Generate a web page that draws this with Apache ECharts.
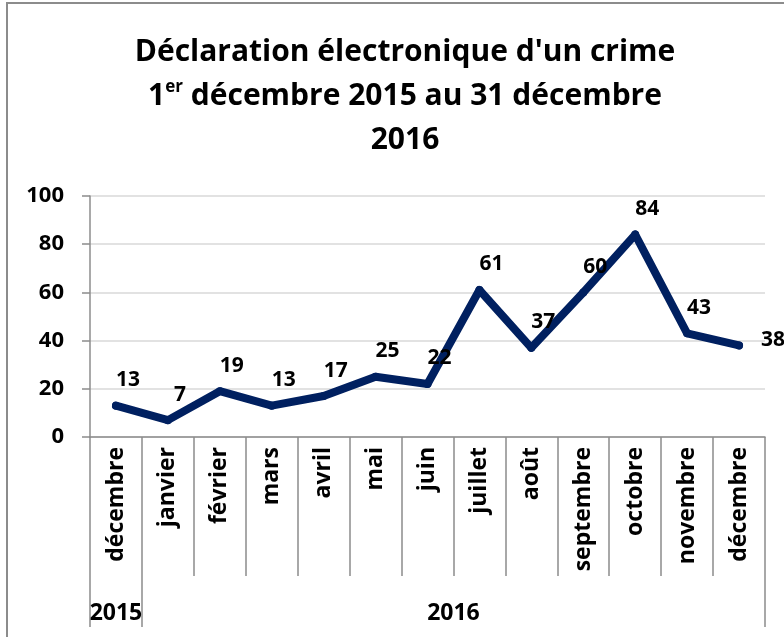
<!DOCTYPE html>
<html>
<head>
<meta charset="utf-8">
<script src="https://cdn.jsdelivr.net/npm/echarts@6/dist/echarts.min.js"></script>
<style>
  html, body { margin: 0; padding: 0; background: #fff; }
  #crimeChart { width: 784px; height: 637px; }
</style>
</head>
<body>
<div id="crimeChart"></div>
<script>
const MONTH_LABELS = ['décembre', 'janvier', 'février', 'mars', 'avril', 'mai', 'juin',
  'juillet', 'août', 'septembre', 'octobre', 'novembre', 'décembre']
const CRIME_COUNTS = [13, 7, 19, 13, 17, 25, 22, 61, 37, 60, 84, 43, 38]
const YEAR_LABELS = ['2015', '2016']
const Y_TICKS = [0, 20, 40, 60, 80, 100]

const FONT = '"Open Sans", "Liberation Sans", sans-serif'
const GRAY = '#8c8c8c'

const initCrimeChart = () => {
  const crimeChart = echarts.init(document.getElementById('crimeChart'))
  const lastIndex = CRIME_COUNTS.length - 1
  const crimeOption = {
    animation: false,
    textStyle: { fontFamily: FONT },
    graphic: [{
      type: 'rect',
      shape: { x: 7, y: 3, width: 820, height: 700 },
      style: { fill: 'none', stroke: GRAY, lineWidth: 2 },
      silent: true
    }],
    title: {
      text: "Déclaration électronique d'un crime\n1{sup|er} décembre 2015 au 31 décembre\n2016",
      left: 400,
      top: 25,
      textAlign: 'center',
      textStyle: {
        fontFamily: FONT,
        fontSize: 30,
        fontWeight: 'bold',
        color: '#000',
        lineHeight: 44,
        rich: {
          sup: {
            fontFamily: FONT,
            fontSize: 17,
            fontWeight: 'bold',
            color: '#000',
            verticalAlign: 'top',
            lineHeight: 44,
            padding: [5, 0, 0, 0]
          }
        }
      }
    },
    grid: {
      left: 90,
      right: 19,
      top: 196,
      bottom: 200,
      containLabel: false
    },
    xAxis: [{
      type: 'category',
      data: MONTH_LABELS,
      boundaryGap: true,
      axisLine: { lineStyle: { color: GRAY, width: 1.5 } },
      axisTick: {
        show: true,
        interval: 0,
        length: 139,
        lineStyle: { color: GRAY, width: 1.5 }
      },
      axisLabel: {
        interval: 0,
        rotate: 90,
        margin: 10,
        fontFamily: FONT,
        fontSize: 23,
        fontWeight: 'bold',
        color: '#000'
      },
      splitLine: { show: false }
    }, {
      type: 'value',
      position: 'bottom',
      offset: 139,
      min: 0,
      max: 13,
      axisLine: { show: false },
      axisTick: {
        show: true,
        customValues: [0, 1, 13],
        length: 51,
        lineStyle: { color: GRAY, width: 1.5 }
      },
      axisLabel: {
        customValues: [0.5, 7],
        margin: 26,
        fontFamily: FONT,
        fontSize: 23,
        fontWeight: 'bold',
        color: '#000',
        formatter: (value) => (value < 1 ? YEAR_LABELS[0] : YEAR_LABELS[1])
      },
      splitLine: { show: false }
    }],
    yAxis: {
      type: 'value',
      min: Y_TICKS[0],
      max: Y_TICKS[Y_TICKS.length - 1],
      interval: 20,
      axisLine: { show: true, lineStyle: { color: GRAY, width: 1.5 } },
      axisTick: { show: true, length: 8, lineStyle: { color: GRAY, width: 1.5 } },
      axisLabel: {
        margin: 26,
        fontFamily: FONT,
        fontSize: 22,
        fontWeight: 'bold',
        color: '#000'
      },
      splitLine: { lineStyle: { color: '#d9d9d9', width: 1.5 } }
    },
    series: [{
      type: 'line',
      xAxisIndex: 0,
      data: CRIME_COUNTS.map((count, i) => (i === lastIndex
        ? { value: count, label: { position: 'right', distance: 18, offset: [0, -5] } }
        : count)),
      symbol: 'circle',
      symbolSize: 8,
      itemStyle: { color: '#002060' },
      lineStyle: { color: '#002060', width: 8, cap: 'round', join: 'round' },
      label: {
        show: true,
        position: 'top',
        distance: 5,
        offset: [12, -6],
        fontFamily: FONT,
        fontSize: 21,
        fontWeight: 'bold',
        color: '#000'
      }
    }]
  }
  crimeChart.setOption(crimeOption)
}

initCrimeChart()
</script>
</body>
</html>
